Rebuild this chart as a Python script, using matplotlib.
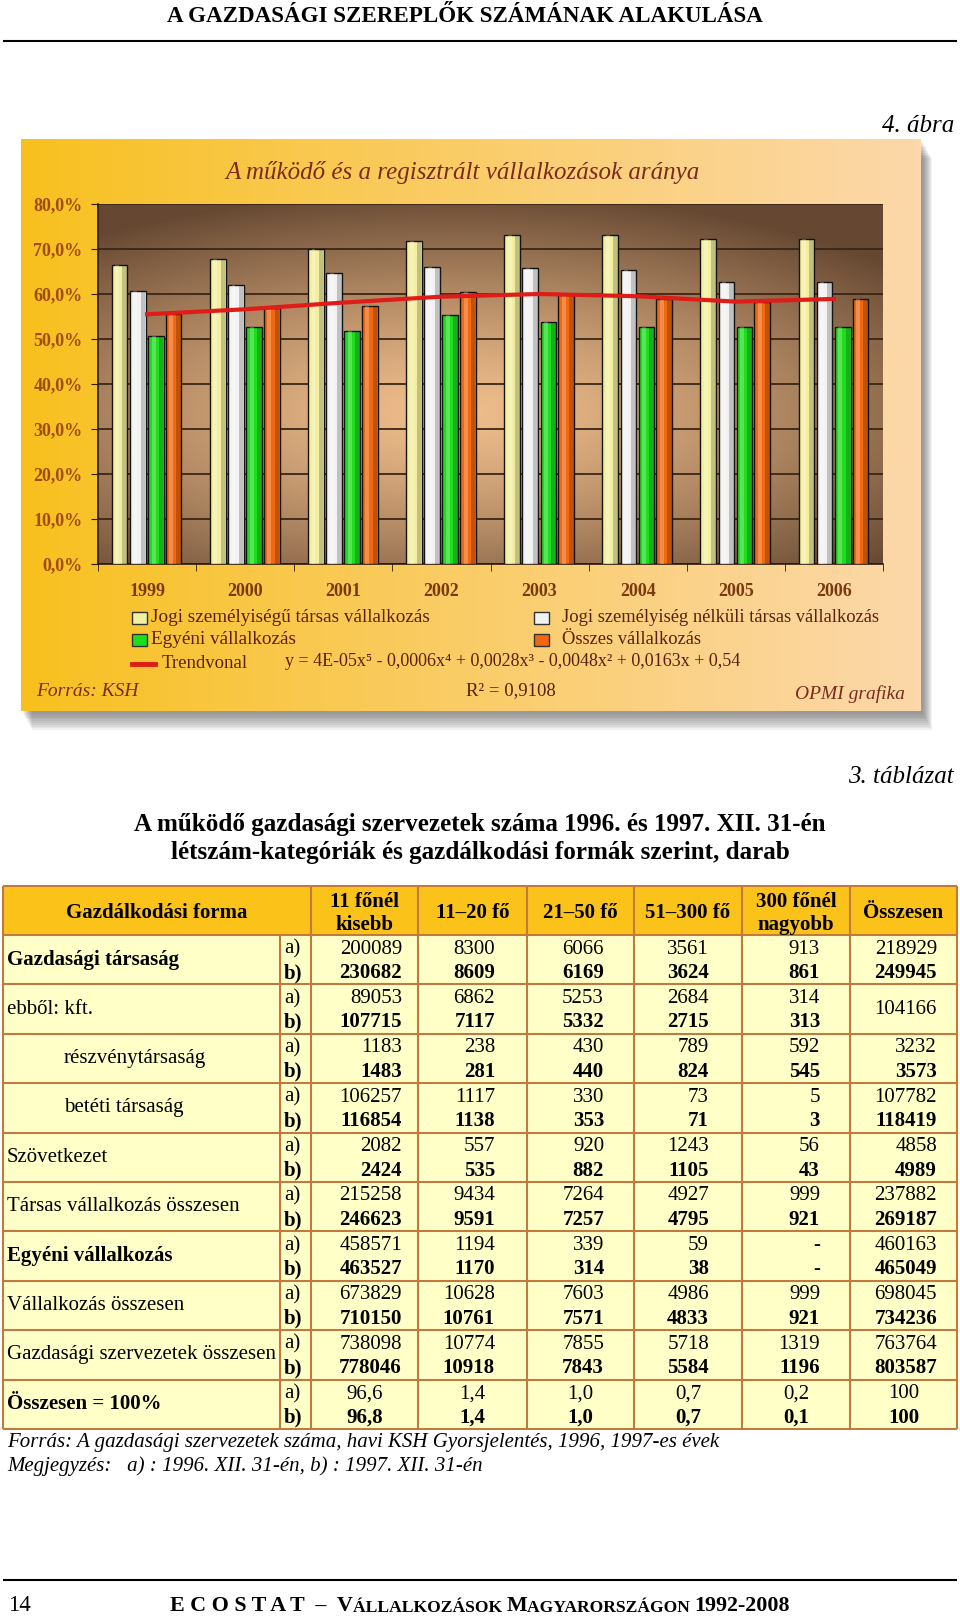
import numpy as np
import matplotlib
matplotlib.use('Agg')
import matplotlib.pyplot as plt
from matplotlib.patches import Rectangle
from matplotlib.colors import to_rgb

plt.rcParams['font.family'] = ['Liberation Serif', 'DejaVu Serif']

# --- chart data (share of operating / registered enterprises, %) ---
years = ['1999', '2000', '2001', '2002', '2003', '2004', '2005', '2006']
jogi_szem = [66.5, 67.8, 70.0, 71.8, 73.2, 73.1, 72.2, 72.2]
jogi_nelkuli = [60.6, 62.0, 64.7, 65.9, 65.7, 65.4, 62.7, 62.7]
egyeni = [50.6, 52.7, 51.8, 55.3, 53.7, 52.6, 52.6, 52.6]
osszes = [55.6, 56.8, 57.4, 60.4, 59.7, 59.0, 58.3, 59.0]
trend = [55.5, 56.6, 58.1, 59.4, 60.0, 59.5, 58.3, 58.9]
series_names = ['Jogi személyiségű társas vállalkozás',
                'Jogi személyiség nélküli társas vállalkozás',
                'Egyéni vállalkozás', 'Összes vállalkozás']
series_cols = ['#f2f0a0', '#f2f2f2', '#1fdc1f', '#f06810']

# --- table data ---
col_heads = ['11 főnél\nkisebb', '11–20 fő', '21–50 fő', '51–300 fő', '300 főnél\nnagyobb', 'Összesen']
row_labels = ['Gazdasági társaság', 'ebből: kft.', 'részvénytársaság', 'betéti társaság',
              'Szövetkezet', 'Társas vállalkozás összesen', 'Egyéni vállalkozás',
              'Vállalkozás összesen', 'Gazdasági szervezetek összesen', 'Összesen = 100%']
bold_rows = [0, 6, 9]
indent_rows = [2, 3]
vals_1996 = [['200089', '8300', '6066', '3561', '913', '218929'],
             ['89053', '6862', '5253', '2684', '314', '104166'],
             ['1183', '238', '430', '789', '592', '3232'],
             ['106257', '1117', '330', '73', '5', '107782'],
             ['2082', '557', '920', '1243', '56', '4858'],
             ['215258', '9434', '7264', '4927', '999', '237882'],
             ['458571', '1194', '339', '59', '-', '460163'],
             ['673829', '10628', '7603', '4986', '999', '698045'],
             ['738098', '10774', '7855', '5718', '1319', '763764'],
             ['96,6', '1,4', '1,0', '0,7', '0,2', '100']]
vals_1997 = [['230682', '8609', '6169', '3624', '861', '249945'],
             ['107715', '7117', '5332', '2715', '313', None],
             ['1483', '281', '440', '824', '545', '3573'],
             ['116854', '1138', '353', '71', '3', '118419'],
             ['2424', '535', '882', '1105', '43', '4989'],
             ['246623', '9591', '7257', '4795', '921', '269187'],
             ['463527', '1170', '314', '38', '-', '465049'],
             ['710150', '10761', '7571', '4833', '921', '734236'],
             ['778046', '10918', '7843', '5584', '1196', '803587'],
             ['96,8', '1,4', '1,0', '0,7', '0,1', '100']]

W, H = 960, 1616
fig = plt.figure(figsize=(W / 100, H / 100), dpi=100)
pg = fig.add_axes([0, 0, 1, 1])
pg.set_xlim(0, W)
pg.set_ylim(H, 0)
pg.set_autoscale_on(False)
pg.axis('off')


def px_axes(x0, y0, x1, y1):
    return fig.add_axes([x0 / W, 1 - y1 / H, (x1 - x0) / W, (y1 - y0) / H])


def chain(ax, x, y, pieces, **kw):
    t = ax.text(x, y, pieces[0][0], fontsize=pieces[0][1], ha='left', va='bottom', **kw)
    for s, fs in pieces[1:]:
        t = ax.annotate(s, xy=(1, 0), xycoords=t, fontsize=fs, ha='left', va='bottom', **kw)
    return t


# page header
pg.text(465, 16, 'A GAZDASÁGI SZEREPLŐK SZÁMÁNAK ALAKULÁSA', ha='center', va='center',
        fontsize=16.6, fontweight='bold')
pg.hlines(41, 3, 957, color='black', lw=1.5)
pg.text(954, 126, '4. ábra', ha='right', va='center', style='italic', fontsize=18)

# chart frame with shadow and gradient
for k in range(10):
    pg.add_patch(Rectangle((23 + k, 142 + k * 1.8), 900, 572, color='#505050', alpha=0.08, lw=0))
c_left, c_right = np.array(to_rgb('#f8c01c')), np.array(to_rgb('#fcd8aa'))
g = np.linspace(0, 1, 256) ** 0.9
grad = (c_left[None, :] * (1 - g[:, None]) + c_right[None, :] * g[:, None])[None, :, :]
pg.imshow(grad, extent=(21, 921, 711, 139), aspect='auto', zorder=1)

pg.text(462, 173, 'A működő és a regisztrált vállalkozások aránya', ha='center', va='center',
        style='italic', fontsize=18, color='#7a2a1e', zorder=3)

ax = px_axes(98, 204, 883, 564)
ax.set_xlim(-0.5, 7.5)
ax.set_ylim(0, 0.8)
yy, xx = np.mgrid[0:1:200j, 0:1:200j]
d = np.sqrt(((xx - 0.45) / 0.75) ** 2 + ((yy - 0.42) / 0.62) ** 2)
t = np.clip(d, 0, 1)[..., None] ** 1.3
light, dark = np.array(to_rgb('#efbe8c')), np.array(to_rgb('#664832'))
bg = light * (1 - t) + dark * t
ax.imshow(bg, extent=(-0.5, 7.5, 0, 0.8), aspect='auto', origin='lower', zorder=0)

ax.set_yticks(np.arange(0, 0.81, 0.1))
ax.set_yticklabels([f'{v * 100:.1f}%'.replace('.', ',') for v in np.arange(0, 0.81, 0.1)])
ax.yaxis.grid(True, color='#3a2616', lw=1.3)
ax.set_axisbelow(True)
for s in ['top', 'right']:
    ax.spines[s].set_visible(False)
for s in ['left', 'bottom']:
    ax.spines[s].set_color('#2a1a10')
    ax.spines[s].set_linewidth(1.2)
ax.tick_params(axis='y', direction='out', length=5, color='#2a1a10', labelsize=13,
               labelcolor='#a04c14', pad=6)
ax.set_xticks(range(len(years)))
ax.set_xticklabels(years)
ax.set_xticks(np.arange(-0.5, len(years), 1), minor=True)
ax.tick_params(axis='x', which='major', length=0, labelsize=13, labelcolor='#7a3a10', pad=14)
ax.tick_params(axis='x', which='minor', direction='out', length=5, color='#2a1a10')
for lab in ax.get_yticklabels() + ax.get_xticklabels():
    lab.set_fontweight('bold')

x = np.arange(len(years))
offs = [-0.28, -0.095, 0.09, 0.27]
bw = 0.16
for i, (vals, col) in enumerate(zip([jogi_szem, jogi_nelkuli, egyeni, osszes], series_cols)):
    v = np.array(vals) / 100
    ax.bar(x + offs[i], v, width=bw, color=col, edgecolor='#151515', lw=1, zorder=3)
    # cylinder-like shading
    ax.bar(x + offs[i] + bw * 0.33, v, width=bw * 0.3, color='black', alpha=0.2, lw=0, zorder=3.1)
    ax.bar(x + offs[i] - bw * 0.15, v, width=bw * 0.25, color='white', alpha=0.25, lw=0, zorder=3.1)
ax.plot(x, np.array(trend) / 100, color='#e01c18', lw=3, zorder=4)

# chart legend
leg_pos = [(132, 618), (534, 618), (132, 640), (534, 640)]
txt_dx = [19, 28, 19, 28]
leg_fs = [13.8, 13.3, 13.8, 13.3]
for (lx, ly), dx, lfs, name, col in zip(leg_pos, txt_dx, leg_fs, series_names, series_cols):
    pg.add_patch(Rectangle((lx, ly - 6), 15, 12, fc=col, ec='#333333', lw=1, zorder=3))
    pg.text(lx + dx, ly, name, ha='left', va='center', fontsize=lfs, color='#5a2010', zorder=3)
pg.plot([132, 155], [664, 664], color='#e01c18', lw=3.5, zorder=3)
pg.text(162, 664, 'Trendvonal', ha='left', va='center', fontsize=13.5, color='#5a2010', zorder=3)
pg.text(285, 662, 'y = 4E-05x⁵ - 0,0006x⁴ + 0,0028x³ - 0,0048x² + 0,0163x + 0,54',
        ha='left', va='center', fontsize=13, color='#5a2010', zorder=3)
pg.text(36, 692, 'Forrás: KSH', ha='left', va='center', style='italic', fontsize=14,
        color='#7a2a1e', zorder=3)
pg.text(511, 691, 'R² = 0,9108', ha='center', va='center', fontsize=13.5, color='#5a2010', zorder=3)
pg.text(905, 694, 'OPMI grafika', ha='right', va='center', style='italic', fontsize=14,
        color='#7a2a1e', zorder=3)

# table title
pg.text(954, 777, '3. táblázat', ha='right', va='center', style='italic', fontsize=18)
pg.text(480, 825, 'A működő gazdasági szervezetek száma 1996. és 1997. XII. 31-én',
        ha='center', va='center', fontsize=18.1, fontweight='bold')
pg.text(480, 853, 'létszám-kategóriák és gazdálkodási formák szerint, darab',
        ha='center', va='center', fontsize=18.1, fontweight='bold')

# table
edges = [3, 280, 311, 418, 527, 634, 742, 850, 957]
pads = [16, 32, 30, 33, 30, 20]
top, hbot, blk = 886, 935, 49.4
bot = hbot + blk * len(row_labels)
line_c = '#c07a40'
fs = 15
pg.add_patch(Rectangle((edges[0], top), edges[-1] - edges[0], hbot - top, fc='#fbc21a', lw=0))
pg.add_patch(Rectangle((edges[0], hbot), edges[-1] - edges[0], bot - hbot, fc='#ffffc8', lw=0))
pg.hlines([top, hbot] + [hbot + blk * (r + 1) for r in range(len(row_labels))],
          edges[0], edges[-1], color=line_c, lw=1.5)
pg.vlines([e for e in edges if e != 280], top, bot, color=line_c, lw=1.5)
pg.vlines(280, hbot, bot, color=line_c, lw=1.5)

pg.text((edges[0] + edges[2]) / 2, (top + hbot) / 2 + 2, 'Gazdálkodási forma', ha='center',
        va='center', fontsize=fs, fontweight='bold')
for j, h in enumerate(col_heads):
    pg.text((edges[j + 2] + edges[j + 3]) / 2, (top + hbot) / 2 + 3, h, ha='center', va='center',
            fontsize=fs, fontweight='bold', linespacing=1.15)

for r, lab in enumerate(row_labels):
    yt = hbot + r * blk
    pg.text(64 if r in indent_rows else 7, yt + blk / 2, lab, ha='left', va='center',
            fontsize=fs, fontweight='bold' if r in bold_rows else 'normal')
    pg.text(284, yt + 14, 'a)', ha='left', va='center', fontsize=fs)
    pg.text(284, yt + 38, 'b)', ha='left', va='center', fontsize=fs, fontweight='bold')
    for j in range(len(col_heads)):
        cl, cr = edges[j + 2], edges[j + 3]
        if r == len(row_labels) - 1:
            xp, ha = (cl + cr) / 2, 'center'
        else:
            xp, ha = cr - pads[j], 'right'
        a, b = vals_1996[r][j], vals_1997[r][j]
        if b is None:
            pg.text(xp, yt + blk / 2, a, ha=ha, va='center', fontsize=fs)
        else:
            pg.text(xp, yt + 14, a, ha=ha, va='center', fontsize=fs)
            pg.text(xp, yt + 38, b, ha=ha, va='center', fontsize=fs, fontweight='bold')

pg.text(7, 1442, 'Forrás: A gazdasági szervezetek száma, havi KSH Gyorsjelentés, 1996, 1997-es évek',
        ha='left', va='center', style='italic', fontsize=15)
pg.text(7, 1466, 'Megjegyzés:   a) : 1996. XII. 31-én, b) : 1997. XII. 31-én',
        ha='left', va='center', style='italic', fontsize=15)

# page footer
pg.hlines(1580, 3, 957, color='black', lw=1.5)
pg.text(8, 1616, '14', ha='left', va='bottom', fontsize=16.5)
chain(pg, 170, 1616, [('E C O S T A T  –  V', 15.8), ('ÁLLALKOZÁSOK ', 12.6), ('M', 15.8),
                      ('AGYARORSZÁGON ', 12.6), ('1992-2008', 15.8)], fontweight='bold')

fig.savefig('out.png', dpi=100)
